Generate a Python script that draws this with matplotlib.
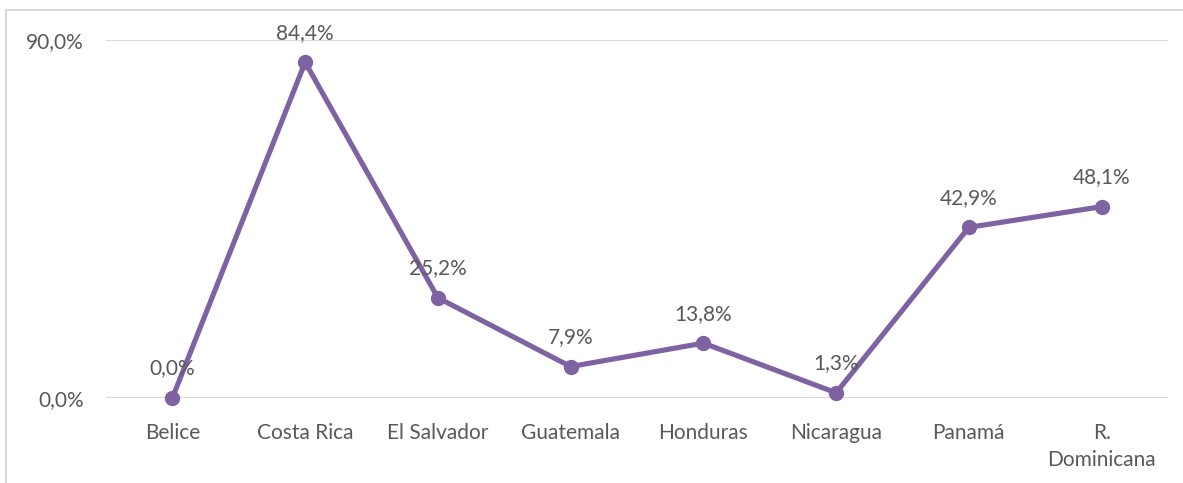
import matplotlib.pyplot as plt
from matplotlib.patches import Rectangle

paises = ["Belice", "Costa Rica", "El Salvador", "Guatemala", "Honduras",
          "Nicaragua", "Panamá", "R.\nDominicana"]
porcentaje = [0.0, 84.4, 25.2, 7.9, 13.8, 1.3, 42.9, 48.1]
y_ticks = [0.0, 90.0]

morado = "#7F62A1"
gris_texto = "#595959"
gris_linea = "#D9D9D9"

plt.rcParams['font.family'] = ['Lato', 'DejaVu Sans']

fig = plt.figure(figsize=(11.83, 4.83), dpi=100)
ax = fig.add_axes([106 / 1183, 1 - 398 / 483, (1168 - 106) / 1183, (398 - 40) / 483])

# marco exterior del gráfico (recortado a derecha y abajo)
fig.patches.append(Rectangle((6 / 1183, -0.1), 1.2, 1 - 10 / 483 + 0.1,
                             transform=fig.transFigure, fill=False,
                             edgecolor=gris_linea, linewidth=1.5))

x = range(len(paises))
ax.plot(x, porcentaje, color=morado, linewidth=3.7, marker='o',
        markersize=10, solid_capstyle='round', zorder=3, clip_on=False)

for xi, v in zip(x, porcentaje):
    ax.annotate(f"{v:.1f}%".replace(".", ","), (xi, v), xytext=(0, 14),
                textcoords='offset points', ha='center', va='bottom',
                fontsize=15, color=gris_texto)

ax.set_xlim(-0.5, len(paises) - 0.5)
ax.set_ylim(0, 90)
ax.set_yticks(y_ticks)
ax.set_yticklabels([f"{t:.1f}%".replace(".", ",") for t in y_ticks])
ax.set_xticks(list(x))
ax.set_xticklabels(paises, linespacing=1.45)
ax.tick_params(axis='both', length=0, labelsize=15, labelcolor=gris_texto)
ax.tick_params(axis='x', pad=18)
ax.tick_params(axis='y', pad=16)
ax.grid(axis='y', color=gris_linea, linewidth=1.5)
ax.set_axisbelow(True)
for s in ax.spines.values():
    s.set_visible(False)

fig.savefig("out.png", dpi=100)
